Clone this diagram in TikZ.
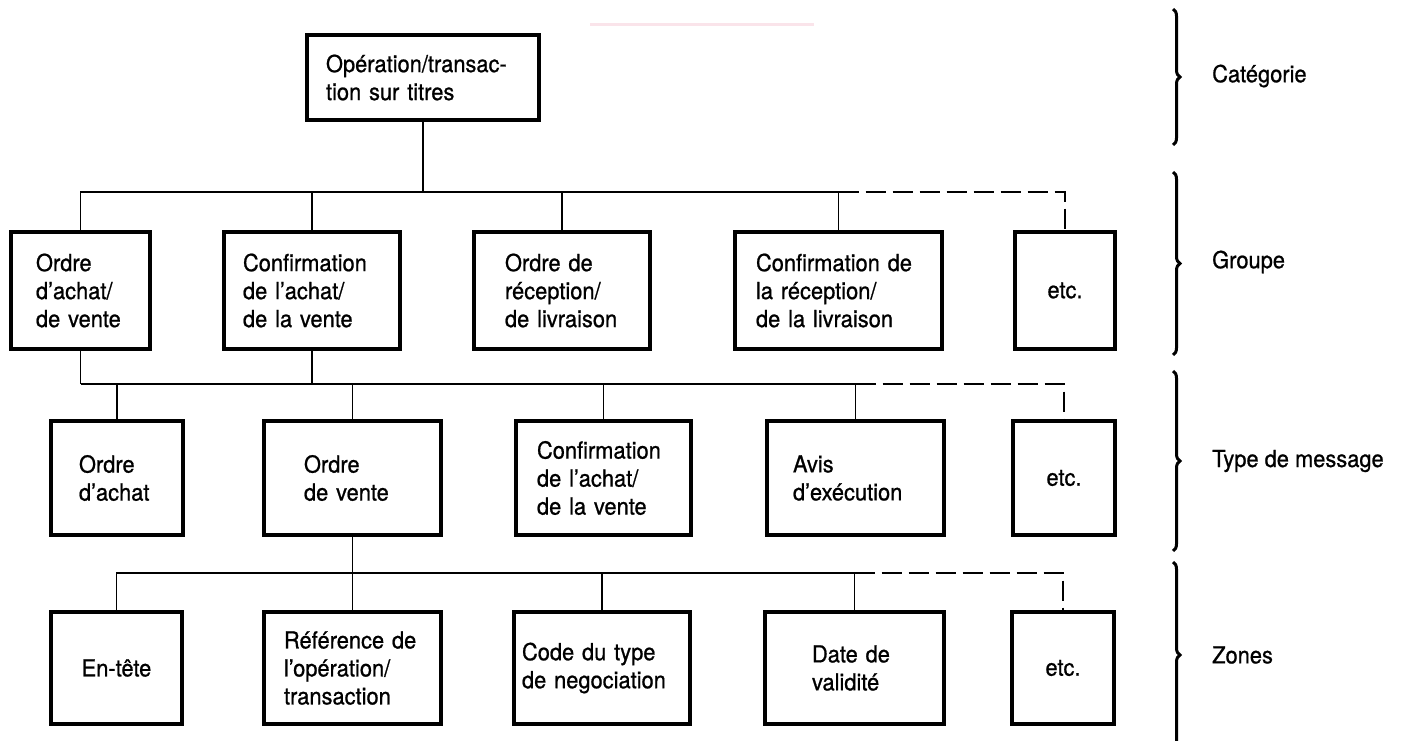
\documentclass[tikz,border=0pt]{standalone}
\usepackage{fontspec}
\setmainfont{TeX Gyre Heros}[FakeStretch=0.93,FakeBold=0.8]
\usetikzlibrary{decorations.pathreplacing}
\definecolor{faintpink}{RGB}{250,228,234}
\begin{document}
\begin{tikzpicture}[x=1pt,y=-1pt,
  box/.style={draw, line width=4pt, inner sep=0pt, font=\fontsize{23.5}{28}\selectfont},
  lbox/.style={box, align=left},
  cbox/.style={box, align=center},
  conn/.style={line width=1.8pt},
  dconn/.style={line width=1.8pt, dash pattern=on 20pt off 7pt},
  brc/.style={line width=3pt, decorate, decoration={brace, amplitude=7pt}},
  lbl/.style={anchor=west, inner sep=0pt, font=\fontsize{23.5}{28}\selectfont}]
\useasboundingbox (0,0) rectangle (1402,741);
\clip (0,0) rectangle (1402,741);
\draw[line width=3pt, faintpink] (590,25) -- (814,25);

% top
\node[lbox, minimum width=232pt, minimum height=85pt, text width=194pt] (T) at (423,77.5) {Opération/transac-\\tion~sur~titres};

% row 2 : groupe
\node[lbox, minimum width=139pt, minimum height=117pt, text width=89pt] (B1) at (80.5,290.5) {Ordre\\d’achat/\\de~vente};
\node[lbox, minimum width=176pt, minimum height=117pt, text width=138pt] (B2) at (312,290.5) {Confirmation\\de~l’achat/\\de~la~vente};
\node[lbox, minimum width=176pt, minimum height=117pt, text width=114pt] (B3) at (562,290.5) {Ordre~de\\réception/\\de~livraison};
\node[lbox, minimum width=207pt, minimum height=117pt, text width=165pt] (B4) at (838.5,290.5) {Confirmation~de\\la~réception/\\de~la~livraison};
\node[cbox, minimum width=100pt, minimum height=117pt] (B5) at (1065,290.5) {etc.};

% row 3 : type de message
\node[lbox, minimum width=132pt, minimum height=114pt, text width=76pt] (C1) at (117,478) {Ordre\\d’achat};
\node[lbox, minimum width=177pt, minimum height=114pt, text width=97pt] (C2) at (352.5,478) {Ordre\\de~vente};
\node[lbox, minimum width=175pt, minimum height=114pt, text width=133pt] (C3) at (603.5,478) {Confirmation\\de~l’achat/\\de~la~vente};
\node[lbox, minimum width=177pt, minimum height=114pt, text width=125pt] (C4) at (855.5,478) {Avis\\d’exécution};
\node[cbox, minimum width=102pt, minimum height=114pt] (C5) at (1064,478) {etc.};

% row 4 : zones
\node[cbox, minimum width=131pt, minimum height=112pt] (D1) at (116.5,668) {En-tête};
\node[lbox, minimum width=177pt, minimum height=112pt, text width=137pt] (D2) at (352.5,668) {Référence~de\\l’opération/\\transaction};
\node[lbox, minimum width=176pt, minimum height=112pt, text width=160pt] (D3) at (602,668) {Code~du~type\\de~negociation};
\node[lbox, minimum width=179pt, minimum height=112pt, text width=85pt] (D4) at (854.5,668) {Date~de\\validité};
\node[cbox, minimum width=102pt, minimum height=112pt] (D5) at (1063,668) {etc.};

% bar levels
\coordinate (y1) at (0,192);
\coordinate (y2) at (0,384);
\coordinate (y3) at (0,573);

% level 1 connectors
\draw[conn] (T.south) -- (T.south |- y1);
\draw[conn] (B1.north) -- (B1.north |- y1) -- (B4.north |- y1) -- (B4.north);
\draw[conn] (B2.north) -- (B2.north |- y1);
\draw[conn] (B3.north) -- (B3.north |- y1);
\draw[dconn] (B4.north |- y1) -- (B5.north |- y1) -- (B5.north);

% level 2 connectors
\draw[conn] (B1.south) -- (B1.south |- y2);
\draw[conn] (B2.south) -- (B2.south |- y2);
\draw[conn] (B1.south |- y2) -- (C4.north |- y2) -- (C4.north);
\draw[conn] (C1.north) -- (C1.north |- y2);
\draw[conn] (C2.north) -- (C2.north |- y2);
\draw[conn] (C3.north) -- (C3.north |- y2);
\draw[dconn] (C4.north |- y2) -- (C5.north |- y2) -- (C5.north);

% level 3 connectors
\draw[conn] (C2.south) -- (C2.south |- y3);
\draw[conn] (D1.north) -- (D1.north |- y3) -- (D4.north |- y3) -- (D4.north);
\draw[conn] (D2.north) -- (D2.north |- y3);
\draw[conn] (D3.north) -- (D3.north |- y3);
\draw[dconn] (D4.north |- y3) -- (D5.north |- y3) -- (D5.north);

% braces
\draw[brc] (1173,9) -- (1173,145);
\draw[brc] (1173,172) -- (1173,355);
\draw[brc] (1173,371) -- (1173,551);
\draw[brc] (1173,562) -- (1173,748);

% labels
\node[lbl] (L1) at (1212,76) {Catégorie};
\node[lbl] (L2) at (1212,262) {Groupe};
\node[lbl] (L3) at (1212,461) {Type de message};
\node[lbl] (L4) at (1212,655) {Zones};
\end{tikzpicture}
\end{document}
